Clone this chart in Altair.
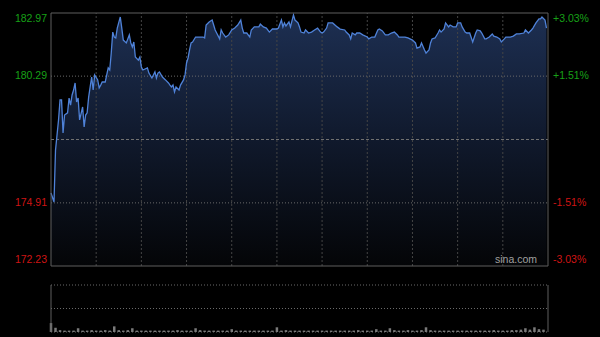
import altair as alt
import pandas as pd

# ---- intraday price (minute index from open, price) ----
minutes = [
    0, 2, 3, 5, 6, 7, 8, 9, 11, 12,
    13, 14, 15, 16, 17, 18, 19, 21, 22, 23,
    24, 25, 26, 27, 28, 29, 31, 32, 33, 34,
    36, 37, 38, 39, 40, 41, 42, 43, 44, 46,
    47, 48, 50, 52, 53, 54, 55, 56, 58, 59,
    60, 61, 64, 65, 67, 68, 69, 70, 71, 72,
    74, 76, 78, 79, 80, 81, 82, 83, 85, 86,
    88, 89, 90, 91, 92, 93, 94, 96, 98, 101,
    102, 103, 105, 107, 108, 109, 110, 112, 113, 114,
    116, 118, 120, 122, 124, 126, 127, 128, 130, 132,
    133, 135, 138, 139, 141, 143, 145, 147, 150, 151,
    153, 154, 155, 156, 158, 159, 161, 162, 164, 165,
    166, 168, 169, 171, 173, 175, 177, 179, 180, 181,
    183, 184, 186, 187, 190, 192, 195, 196, 198, 199,
    200, 202, 203, 205, 207, 210, 211, 213, 215, 217,
    218, 220, 222, 224, 226, 228, 230, 231, 234, 235,
    237, 240, 242, 243, 245, 246, 248, 249, 251, 252,
    253, 255, 257, 258, 259, 261, 262, 264, 265, 267,
    269, 270, 272, 273, 275, 276, 278, 280, 282, 283,
    285, 286, 288, 289, 291, 293, 294, 296, 298, 299,
    301, 302, 304, 305, 307, 309, 311, 314, 315, 317,
    319, 320, 322, 324, 325, 326, 328, 329,
]
prices = [
    175.33, 174.95, 177.15, 178.43, 179.28, 179.28, 177.88, 178.64, 178.73, 179.36,
    179.06, 179.49, 179.70, 180.00, 179.19, 179.36, 178.43, 178.98, 178.13, 178.64,
    178.73, 179.40, 179.83, 180.25, 179.70, 180.34, 180.13, 179.79, 179.91, 180.04,
    180.04, 180.34, 180.64, 180.55, 181.27, 182.16, 181.95, 181.91, 182.33, 182.80,
    182.33, 181.82, 181.70, 182.04, 181.70, 181.53, 181.74, 181.10, 180.97, 181.10,
    180.68, 180.55, 180.64, 180.42, 180.21, 180.34, 180.47, 180.21, 180.42, 180.47,
    180.25, 180.13, 180.00, 179.91, 179.83, 179.91, 179.62, 179.83, 179.70, 179.91,
    180.13, 180.34, 180.85, 181.06, 181.40, 181.70, 181.74, 181.95, 181.95, 181.95,
    181.91, 182.46, 182.59, 182.67, 182.46, 182.25, 182.12, 181.87, 182.25, 182.12,
    181.95, 182.04, 182.25, 182.33, 182.46, 182.67, 182.33, 182.12, 182.12, 181.95,
    182.25, 182.38, 182.38, 182.50, 182.38, 182.33, 182.16, 182.29, 182.29, 182.33,
    182.67, 182.38, 182.55, 182.42, 182.59, 182.38, 182.89, 182.67, 182.55, 182.38,
    182.16, 182.12, 182.25, 182.12, 182.16, 182.25, 182.33, 182.16, 182.12, 182.16,
    182.33, 182.55, 182.55, 182.55, 182.38, 182.29, 182.25, 182.16, 182.04, 181.87,
    182.12, 182.04, 182.12, 182.12, 182.04, 181.95, 181.87, 181.95, 181.95, 182.25,
    182.29, 182.21, 182.04, 182.04, 182.12, 182.16, 182.04, 181.95, 181.95, 181.95,
    181.91, 181.82, 181.70, 181.48, 181.53, 181.70, 181.40, 181.27, 181.40, 181.70,
    181.87, 181.91, 182.12, 182.25, 182.16, 182.29, 182.55, 182.38, 182.46, 182.38,
    182.38, 182.55, 182.55, 182.38, 182.16, 182.12, 182.12, 181.74, 182.12, 182.25,
    182.21, 182.12, 181.87, 181.87, 181.95, 182.08, 181.99, 181.95, 181.87, 181.74,
    181.87, 181.95, 181.95, 181.95, 181.99, 182.08, 182.08, 182.12, 182.25, 182.12,
    182.25, 182.33, 182.55, 182.72, 182.72, 182.80, 182.67, 182.33,
]

# ---- volume (3-minute buckets, relative units) ----
vol_minutes = list(range(0, 330, 3))
volumes = [
    19, 9, 4, 3, 3, 3, 8, 3, 3, 4,
    3, 3, 4, 3, 12, 4, 3, 4, 8, 3,
    3, 3, 3, 3, 3, 3, 3, 3, 4, 3,
    3, 3, 8, 4, 3, 3, 3, 3, 3, 3,
    6, 3, 3, 3, 3, 3, 3, 3, 3, 3,
    10, 3, 4, 3, 3, 3, 3, 3, 3, 3,
    3, 3, 3, 3, 3, 3, 3, 3, 4, 3,
    3, 3, 6, 3, 3, 8, 4, 3, 3, 4,
    3, 3, 4, 10, 4, 3, 3, 3, 3, 3,
    3, 3, 3, 3, 3, 3, 3, 3, 4, 3,
    3, 3, 4, 4, 5, 8, 5, 10, 6, 5,
]

# ---- axis labels ----
price_min, price_max = 172.23, 182.97
prev_close = 177.60
label_levels = [182.97, 180.29, 174.91, 172.23]
left_labels = ["182.97", "180.29", "174.91", "172.23"]
right_labels = ["+3.03%", "+1.51%", "-1.51%", "-3.03%"]
label_colors = ["#17a017", "#17a017", "#d01414", "#d01414"]
label_baselines = ["top", "middle", "middle", "bottom"]
grid_levels = [180.29, 174.91]
grid_minutes = [30, 60, 90, 120, 150, 180, 210, 240, 270, 300]
total_minutes = 330
vol_top = 100

price_df = pd.DataFrame({"m": minutes, "p": prices})
vol_df = pd.DataFrame({"m": vol_minutes, "v": volumes})
lab_df = pd.DataFrame({"level": label_levels, "left": left_labels, "right": right_labels,
                       "color": label_colors, "base": label_baselines})

XS = alt.Scale(domain=[0, total_minutes], range=[0, 497], nice=False, zero=False, padding=0)
PY = alt.Scale(domain=[price_min, price_max], range=[253, 0], nice=False, zero=False, padding=0)
VY = alt.Scale(domain=[0, vol_top], range=[319, 272], nice=False, zero=False, padding=0)

X = lambda f: alt.X(f, scale=XS, axis=None)
YP = lambda f: alt.Y(f, scale=PY, axis=None)
YV = lambda f: alt.Y(f, scale=VY, axis=None)

grad = alt.Gradient(gradient="linear", x1=0, x2=0, y1=0, y2=1,
                    stops=[alt.GradientStop(color="#1d2f52", offset=0),
                           alt.GradientStop(color="#10192c", offset=0.5),
                           alt.GradientStop(color="#040507", offset=1)])

area = alt.Chart(price_df).mark_area(color=grad).encode(
    x=X("m:Q"), y=YP("p:Q"), y2=alt.datum(price_min))

hgrid = alt.Chart(pd.DataFrame({"level": grid_levels, "a": 0, "b": total_minutes})).mark_rule(
    color="#6a6a6a", strokeDash=[1, 2], strokeWidth=1).encode(
    y=YP("level:Q"), x=X("a:Q"), x2="b:Q")

mid = alt.Chart(pd.DataFrame({"level": [prev_close], "a": 0, "b": total_minutes})).mark_rule(
    color="#707070", strokeDash=[3, 2], strokeWidth=1).encode(
    y=YP("level:Q"), x=X("a:Q"), x2="b:Q")

vgrid = alt.Chart(pd.DataFrame({"m": grid_minutes, "lo": price_min, "hi": price_max})).mark_rule(
    color="#454545", strokeDash=[2, 2], strokeWidth=1).encode(
    x=X("m:Q"), y=YP("lo:Q"), y2="hi:Q")

line = alt.Chart(price_df).mark_line(color="#4f82d8", strokeWidth=1.3).encode(
    x=X("m:Q"), y=YP("p:Q"))

box = alt.Chart(pd.DataFrame({"a": [0], "b": [total_minutes], "lo": [price_min], "hi": [price_max]})).mark_rect(
    fillOpacity=0, stroke="#5e5e5e", strokeWidth=1).encode(
    x=X("a:Q"), x2="b:Q", y=YP("lo:Q"), y2="hi:Q")

txt_layers = []
for base in ["top", "middle", "bottom"]:
    d = lab_df[lab_df["base"] == base]
    dy = 1 if base == "top" else (-1 if base == "bottom" else 0)
    txt_layers.append(alt.Chart(d).mark_text(align="right", baseline=base, dy=dy, font="Liberation Sans",
                                             fontSize=10.5).encode(
        x=alt.value(-4), y=YP("level:Q"), text="left:N", color=alt.Color("color:N", scale=None)))
    txt_layers.append(alt.Chart(d).mark_text(align="left", baseline=base, dy=dy, font="Liberation Sans",
                                             fontSize=10.5).encode(
        x=alt.value(502), y=YP("level:Q"), text="right:N", color=alt.Color("color:N", scale=None)))

brand = alt.Chart(pd.DataFrame({"t": ["sina.com"]})).mark_text(
    align="right", baseline="bottom", font="Liberation Sans", fontSize=10.5, color="#a0a0a0").encode(
    x=alt.value(486), y=alt.value(252), text="t:N")

# volume panel
vgrid_v = alt.Chart(pd.DataFrame({"v": [vol_top, vol_top / 2, 0], "a": 0, "b": total_minutes})).mark_rule(
    color="#6a6a6a", strokeDash=[1, 2], strokeWidth=1).encode(
    y=YV("v:Q"), x=X("a:Q"), x2="b:Q")

vside = alt.Chart(pd.DataFrame({"m": [0, total_minutes], "lo": 0, "hi": vol_top})).mark_rule(
    color="#5e5e5e", strokeWidth=1).encode(
    x=X("m:Q"), y=YV("lo:Q"), y2="hi:Q")

vbars = alt.Chart(vol_df).mark_bar(color="#7a7a7a", width=2.5).encode(
    x=X("m:Q"), y=YV("v:Q"), y2=alt.datum(0))

chart = alt.layer(area, hgrid, mid, vgrid, line, box, *txt_layers, brand, vgrid_v, vbars, vside).resolve_scale(
    y="independent").properties(
    width=497, height=319, autosize="none",
    padding={"left": 51, "top": 13, "right": 52, "bottom": 5},
    background="#000000").configure_view(stroke=None)

chart.save("out.html", embed_options={"renderer": "svg", "actions": False})
